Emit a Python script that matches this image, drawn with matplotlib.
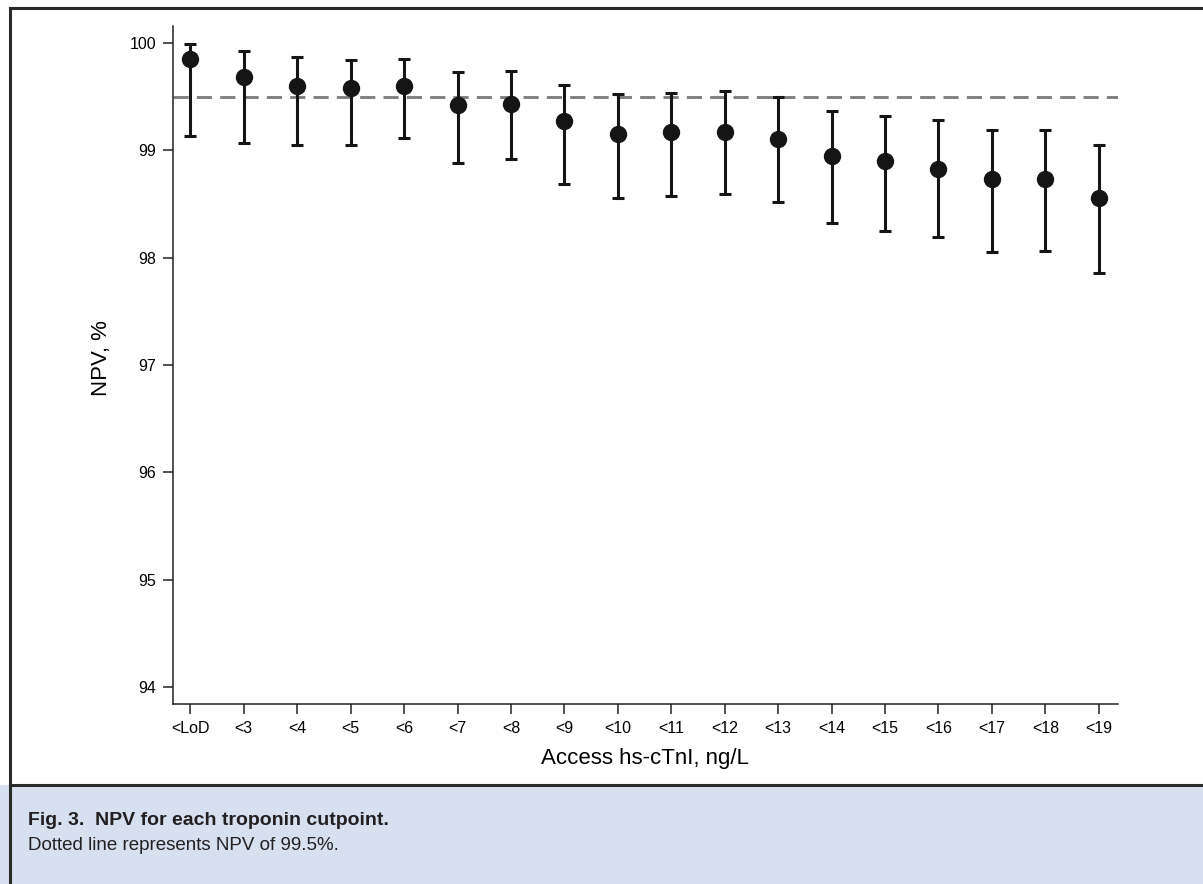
import matplotlib
matplotlib.use("Agg")
import matplotlib.pyplot as plt
from matplotlib.patches import Rectangle
from matplotlib.lines import Line2D
import numpy as np

# cutpoints and NPV estimates with 95% CI
cutpoints = ["<LoD", "<3", "<4", "<5", "<6", "<7", "<8", "<9", "<10",
             "<11", "<12", "<13", "<14", "<15", "<16", "<17", "<18", "<19"]
npv = [99.85, 99.68, 99.60, 99.58, 99.60, 99.42, 99.43, 99.27, 99.15,
       99.17, 99.17, 99.11, 98.95, 98.90, 98.83, 98.73, 98.73, 98.56]
ci_low = [99.13, 99.07, 99.05, 99.05, 99.12, 98.88, 98.92, 98.69, 98.56,
          98.58, 98.59, 98.52, 98.32, 98.25, 98.19, 98.05, 98.06, 97.86]
ci_high = [99.99, 99.93, 99.87, 99.84, 99.85, 99.73, 99.74, 99.61, 99.53,
           99.54, 99.55, 99.50, 99.37, 99.32, 99.28, 99.19, 99.19, 99.05]
threshold = 99.5
yticks = [94, 95, 96, 97, 98, 99, 100]

plt.rcParams['font.family'] = ['Liberation Sans', 'DejaVu Sans']

W, H = 1203, 884
fig = plt.figure(figsize=(W / 100, H / 100), dpi=100)

ax = fig.add_axes([172.7 / W, 1 - 704 / H, (1118 - 172.7) / W, (704 - 26) / H])

x = np.arange(len(cutpoints))
npv = np.array(npv)
err = np.vstack([npv - np.array(ci_low), np.array(ci_high) - npv])

ax.axhline(threshold, color="#808080", lw=2.1, linestyle=(0, (5.2, 2.8)), zorder=1)
ax.errorbar(x, npv, yerr=err, fmt="o", color="#151515", ms=11.5,
            elinewidth=2.2, capsize=4.6, capthick=2.2, zorder=3)

ax.set_xlim(-0.33, 17.36)
ax.set_ylim(93.84, 100.16)
ax.set_xticks(x)
ax.set_xticklabels(cutpoints)
ax.set_yticks(yticks)

for s in ["top", "right"]:
    ax.spines[s].set_visible(False)
for s in ["left", "bottom"]:
    ax.spines[s].set_linewidth(1.1)
    ax.spines[s].set_color("#222222")
ax.tick_params(length=7, width=1.1, color="#222222", labelsize=11.5, pad=5)

ax.set_xlabel("Access hs-cTnI, ng/L", fontsize=16)
ax.set_ylabel("NPV, %", fontsize=16)
ax.yaxis.set_label_coords((112 - 172.7) / (1118 - 172.7), 0.51)
ax.xaxis.set_label_coords(0.5, -(748 - 704) / (704 - 26))

# caption panel and frame
cap_top = (H - 785) / H
fig.add_artist(Rectangle((0, 0), 1, cap_top, transform=fig.transFigure,
                         facecolor="#d7e0ee", edgecolor="none", zorder=0))
fig.add_artist(Line2D([10 / W, 1], [cap_top, cap_top], transform=fig.transFigure,
                      color="#2a2a2a", lw=2.2))
fig.add_artist(Line2D([10 / W, 1], [1 - 8 / H, 1 - 8 / H], transform=fig.transFigure,
                      color="#2a2a2a", lw=2.2))
fig.add_artist(Line2D([10 / W, 10 / W], [0, 1 - 8 / H], transform=fig.transFigure,
                      color="#2a2a2a", lw=2.2))

cap_font = ['Liberation Sans', 'DejaVu Sans']
fig.text(28 / W, 1 - 825 / H, "Fig. 3.  NPV for each troponin cutpoint.",
         fontsize=14, fontweight="bold", family=cap_font, color="#231f20",
         va="baseline")
fig.text(28 / W, 1 - 850 / H, "Dotted line represents NPV of 99.5%.",
         fontsize=13.5, family=cap_font, color="#231f20", va="baseline")

fig.savefig("out.png", dpi=100)
